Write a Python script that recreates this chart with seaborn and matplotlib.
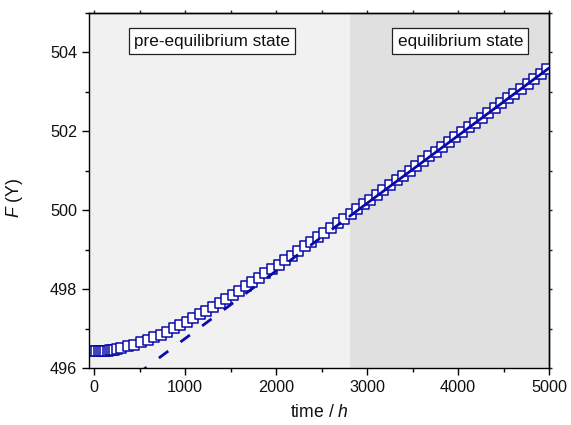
import matplotlib
matplotlib.use("Agg")
import matplotlib.pyplot as plt
from matplotlib.ticker import MultipleLocator, NullFormatter
import seaborn as sns
import pandas as pd

# Measured frequency drift over time
time_h = [0, 25, 50, 75, 100, 125, 150, 175, 200, 225, 250,
          300, 372, 444, 516, 588, 660, 732, 804, 876, 948, 1020, 1092,
          1164, 1236, 1308, 1380, 1452, 1524, 1596, 1668, 1740, 1812, 1884,
          1956, 2028, 2100, 2172, 2244, 2316, 2388, 2460, 2532, 2604, 2676,
          2748, 2820, 2892, 2964, 3036, 3108, 3180, 3252, 3324, 3396, 3468,
          3540, 3612, 3684, 3756, 3828, 3900, 3972, 4044, 4116, 4188, 4260,
          4332, 4404, 4476, 4548, 4620, 4692, 4764, 4836, 4908, 4980]
F_value = [496.420, 496.421, 496.423, 496.426, 496.430, 496.436, 496.442,
           496.450, 496.459, 496.469, 496.480,
           496.504, 496.546, 496.595, 496.650, 496.711, 496.777, 496.848,
           496.924, 497.004, 497.087, 497.174, 497.264, 497.357, 497.452,
           497.550, 497.650, 497.752, 497.855, 497.961, 498.068, 498.176,
           498.286, 498.397, 498.509, 498.622, 498.736, 498.850, 498.966,
           499.082, 499.198, 499.316, 499.433, 499.552, 499.670, 499.790,
           499.909, 500.029, 500.149, 500.270, 500.390, 500.511, 500.632,
           500.754, 500.875, 500.997, 501.119, 501.241, 501.363, 501.485,
           501.607, 501.730, 501.852, 501.975, 502.098, 502.220, 502.343,
           502.466, 502.589, 502.712, 502.835, 502.958, 503.081, 503.204,
           503.327, 503.450, 503.574]

# Linear fit of the equilibrium region (extrapolated backwards as dashes)
fit_time_pre = [0, 2810]
fit_F_pre = [495.03, 499.849]
fit_time_eq = [2810, 5000]
fit_F_eq = [499.849, 503.605]

# State boundary and labels
boundary_h = 2810
state_labels = ["pre-equilibrium state", "equilibrium state"]
state_label_x = [1295, 4025]
state_label_y = [504.29, 504.29]

sns.set_theme(style="ticks")
plt.rcParams["font.family"] = ["Liberation Sans", "DejaVu Sans"]
plt.rcParams["mathtext.fontset"] = "custom"
plt.rcParams["mathtext.it"] = "Liberation Sans:italic"
plt.rcParams["mathtext.rm"] = "Liberation Sans"

blue = "#0a0aa8"

fig = plt.figure(figsize=(5.71, 4.25), dpi=100)
ax = fig.add_axes([0.1559, 0.1341, 0.8056, 0.8353])

ax.set_xlim(-55, 5000)
ax.set_ylim(496, 505)

ax.axvspan(-55, boundary_h, color="#f1f1f1", zorder=0, lw=0)
ax.axvspan(boundary_h, 5000, color="#e0e0e0", zorder=0, lw=0)

df = pd.DataFrame({"time": time_h, "F": F_value})
sns.scatterplot(data=df, x="time", y="F", ax=ax, marker="s", s=42,
                facecolor="white", edgecolor=blue, linewidth=1.1,
                zorder=2, legend=False)

sns.lineplot(x=fit_time_pre, y=fit_F_pre, ax=ax, color=blue, lw=2.0,
             linestyle=(0, (4.2, 5.5)), zorder=3, legend=False)
sns.lineplot(x=fit_time_eq, y=fit_F_eq, ax=ax, color=blue, lw=2.0,
             zorder=3, legend=False)

for label, lx, ly in zip(state_labels, state_label_x, state_label_y):
    ax.text(lx, ly, label, ha="center", va="center", fontsize=12.3,
            color="#111111", zorder=5,
            bbox=dict(boxstyle="square,pad=0.3", fc="white", ec="#222222",
                      lw=0.9))

ax.xaxis.set_major_locator(MultipleLocator(1000))
ax.xaxis.set_minor_locator(MultipleLocator(500))
ax.yaxis.set_major_locator(MultipleLocator(2))
ax.yaxis.set_minor_locator(MultipleLocator(1))
ax.tick_params(axis="both", which="major", direction="out", length=5,
               width=1.0, labelsize=11.7, pad=3.5, color="black",
               labelcolor="#111111")
ax.tick_params(axis="both", which="minor", direction="out", length=3,
               width=1.0, color="black")

secx = ax.secondary_xaxis("top")
secx.xaxis.set_major_locator(MultipleLocator(500))
secx.xaxis.set_major_formatter(NullFormatter())
secx.tick_params(direction="out", length=2.5, width=1.0)
secy = ax.secondary_yaxis("right")
secy.yaxis.set_major_locator(MultipleLocator(1))
secy.yaxis.set_major_formatter(NullFormatter())
secy.tick_params(direction="out", length=2.5, width=1.0)

for sp in list(ax.spines.values()) + [secx.spines["top"], secy.spines["right"]]:
    sp.set_linewidth(1.0)
    sp.set_color("black")

ax.set_xlabel(r"time / $\mathit{h}$", fontsize=12.7, color="#111111")
ax.set_ylabel(r"$\mathit{F}$ (Y)", fontsize=12.7, color="#111111")
ax.xaxis.set_label_coords(0.5, -0.101)
ax.yaxis.set_label_coords(-0.139, 0.479)

fig.savefig("out.png", dpi=100)
